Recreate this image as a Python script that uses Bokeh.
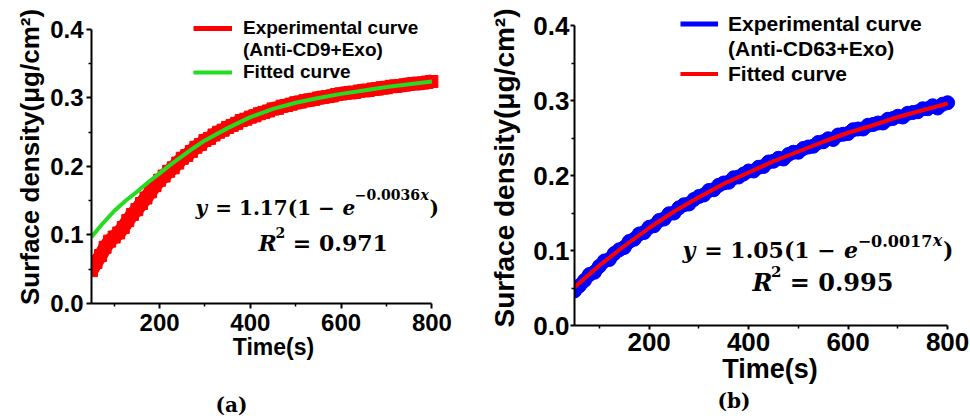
from bokeh.plotting import figure
from bokeh.models import (FixedTicker, PrintfTickFormatter, Label, Legend, LegendItem, Range1d, Title)
from bokeh.layouts import row
from bokeh.embed import file_html
from bokeh.resources import INLINE

# ---------------- data ----------------
time_a = list(range(50, 801, 10))
exp_a = [0.048, 0.060, 0.070, 0.082, 0.091, 0.097, 0.103, 0.111, 0.121, 0.130,
         0.137, 0.146, 0.154, 0.163, 0.172, 0.180, 0.186, 0.193, 0.198, 0.205,
         0.212, 0.216, 0.222, 0.228, 0.232, 0.238, 0.241, 0.246, 0.250, 0.253,
         0.257, 0.260, 0.263, 0.267, 0.269, 0.272, 0.274, 0.277, 0.279, 0.281,
         0.284, 0.285, 0.288, 0.289, 0.291, 0.293, 0.294, 0.296, 0.297, 0.298,
         0.300, 0.301, 0.302, 0.303, 0.305, 0.306, 0.307, 0.308, 0.308, 0.310,
         0.311, 0.311, 0.313, 0.313, 0.315, 0.315, 0.317, 0.317, 0.318, 0.319,
         0.320, 0.321, 0.321, 0.322, 0.323, 0.324]
fit_time_a = [50, 75, 100, 125, 150, 175, 200, 225, 250, 275, 300, 350, 400,
              450, 500, 550, 600, 650, 700, 750, 800]
fit_a = [0.097, 0.117, 0.135, 0.150, 0.163, 0.177, 0.190, 0.203, 0.215, 0.227,
         0.238, 0.256, 0.272, 0.284, 0.293, 0.300, 0.306, 0.311, 0.316, 0.320, 0.324]

time_b = list(range(50, 801, 10))
exp_b = [0.046, 0.053, 0.060, 0.068, 0.071, 0.079, 0.086, 0.088, 0.096, 0.101,
         0.104, 0.112, 0.115, 0.122, 0.124, 0.131, 0.133, 0.140, 0.142, 0.149,
         0.150, 0.157, 0.161, 0.162, 0.168, 0.172, 0.174, 0.180, 0.181, 0.187,
         0.190, 0.191, 0.197, 0.198, 0.202, 0.206, 0.206, 0.211, 0.212, 0.218,
         0.219, 0.223, 0.222, 0.228, 0.231, 0.231, 0.236, 0.238, 0.239, 0.244,
         0.245, 0.249, 0.248, 0.254, 0.255, 0.256, 0.261, 0.262, 0.262, 0.267,
         0.268, 0.270, 0.270, 0.275, 0.276, 0.279, 0.278, 0.283, 0.284, 0.285,
         0.289, 0.289, 0.293, 0.290, 0.295, 0.297]
fit_time_b = [50, 100, 150, 200, 250, 300, 350, 400, 450, 500, 550, 600, 650,
              700, 750, 800]
fit_b = [0.051, 0.080, 0.106, 0.130, 0.152, 0.171, 0.189, 0.204, 0.219, 0.232,
         0.245, 0.257, 0.267, 0.278, 0.287, 0.296]

x_ticks = [200, 400, 600, 800]
x_minor = [100, 300, 500, 700]
y_ticks = [0.0, 0.1, 0.2, 0.3, 0.4]
y_minor = [0.05, 0.15, 0.25, 0.35]

SANS = "Liberation Sans"
SERIF = "DejaVu Serif"

# approximate advance widths (em) for DejaVu Serif Bold / Bold Italic
EMW = {"0": .696, "1": .696, "2": .696, "3": .696, "4": .696, "5": .696,
       "6": .696, "7": .696, "8": .696, "9": .696, ".": .381, " ": .348,
       "(": .473, ")": .473, "=": .838, "−": .838, "y": .640, "e": .615,
       "x": .640, "R": .771}


def tw(text, size):
    return sum(EMW.get(c, .6) for c in text) * size


def put_eq(p, x0, y0, parts):
    x = x0
    for text, size, style, dy in parts:
        if text.strip():
            p.add_layout(Label(x=x, y=y0 + dy, x_units="screen", y_units="screen",
                               text=text, text_font=SERIF, text_font_size=f"{size}px",
                               text_font_style=style, text_color="black",
                               text_baseline="middle", text_align="left"))
        x += tw(text, size)


def make_fig(width, height, bl, br, bt, bb, x_end, y_start, y_end):
    p = figure(width=width, height=height, x_range=Range1d(50, x_end),
               y_range=Range1d(y_start, y_end),
               output_backend="svg", toolbar_location=None,
               min_border_left=bl, min_border_right=br, min_border_top=bt, min_border_bottom=bb)
    p.frame_align = False
    p.title.visible = False
    p.outline_line_color = None
    p.grid.visible = False
    p.xaxis.ticker = FixedTicker(ticks=x_ticks, minor_ticks=x_minor)
    p.yaxis.ticker = FixedTicker(ticks=y_ticks, minor_ticks=y_minor)
    p.xaxis.bounds = (50, 800)
    p.yaxis.bounds = (0, 0.4)
    p.yaxis.formatter = PrintfTickFormatter(format="%.1f")
    p.xaxis.axis_label = "Time(s)"
    p.yaxis.axis_label = "Surface density(μg/cm²)"
    for ax in (p.xaxis[0], p.yaxis[0]):
        ax.axis_line_width = 2
        ax.axis_line_color = "black"
        ax.major_tick_line_width = 2
        ax.minor_tick_line_width = 1.5
        ax.major_tick_line_color = "black"
        ax.minor_tick_line_color = "black"
        ax.major_tick_in = 0
        ax.minor_tick_in = 0
        ax.major_label_text_font = SANS
        ax.major_label_text_font_style = "bold"
        ax.major_label_text_color = "black"
        ax.axis_label_text_font = SANS
        ax.axis_label_text_font_style = "bold"
        ax.axis_label_text_color = "black"
    return p


def caption(p, text, offset):
    p.add_layout(Title(text=text, align="left", offset=offset, standoff=0,
                       text_font=SERIF, text_font_size="20px", text_font_style="bold",
                       text_color="black"), "below")


# ---------------- panel (a) ----------------
pa = make_fig(470, 416, 91, 15, 10, 113, 852, 0.0, 0.4277)
for ax in (pa.xaxis[0], pa.yaxis[0]):
    ax.major_tick_out = 5
    ax.minor_tick_out = 3
    ax.major_label_text_font_size = "24px"
pa.xaxis.major_label_standoff = 5
pa.yaxis.major_label_standoff = 3
pa.xaxis.axis_label_text_font_size = "23px"
pa.yaxis.axis_label_text_font_size = "26px"
pa.xaxis.axis_label_standoff = 0
pa.yaxis.axis_label_standoff = 2

pa.line(time_a, exp_a, line_color="#FF0000", line_width=14)
pa.scatter(time_a, exp_a, marker="square", size=12, color="#FF0000")
exp_line_a = pa.line(time_a, exp_a, line_color="#FF0000", line_width=5)
fit_line_a = pa.line(fit_time_a, fit_a, line_color="#22DD22", line_width=4)

leg_a = Legend(items=[LegendItem(label="Experimental curve", renderers=[exp_line_a]),
                      LegendItem(label="(Anti-CD9+Exo)", renderers=[]),
                      LegendItem(label="Fitted curve", renderers=[fit_line_a])],
               location=(102, 220), orientation="vertical",
               label_text_font=SANS, label_text_font_style="bold", label_text_font_size="19px",
               label_text_color="black", glyph_width=39, glyph_height=22, label_height=22,
               label_standoff=11, spacing=0, padding=0, margin=0,
               border_line_alpha=0, background_fill_alpha=0)
pa.add_layout(leg_a)

put_eq(pa, 104, 96, [("y", 20, "bold italic", 0), (" ", 20, "bold", 0),
                     ("= 1.17(1 −", 20, "bold", 0), (" ", 20, "bold", 0),
                     ("e", 20, "bold italic", 0), ("−0.0036", 14, "bold", 13),
                     ("x", 14, "bold italic", 13), (")", 20, "bold", 0)])
put_eq(pa, 167, 61, [("R", 22, "bold italic", 0), ("2", 14, "bold", 10),
                     (" ", 22, "bold", 0), ("= 0.971", 22, "bold", 0)])
# blank spacer panel between the axis and the caption
pa.add_layout(Title(text=" ", standoff=0, text_font=SERIF, text_font_size="22px"), "below")
caption(pa, "(a)", 124)

# ---------------- panel (b) ----------------
pb = make_fig(499, 416, 104, 4, 10, 91, 836, 0.0, 0.42)
for ax in (pb.xaxis[0], pb.yaxis[0]):
    ax.major_tick_out = 4
    ax.minor_tick_out = 3
    ax.major_label_text_font_size = "26px"
pb.xaxis.major_label_standoff = 3
pb.yaxis.major_label_standoff = 1
pb.xaxis.axis_label_text_font_size = "27px"
pb.yaxis.axis_label_text_font_size = "28px"
pb.xaxis.axis_label_standoff = 0
pb.yaxis.axis_label_standoff = 10

pb.line(time_b, exp_b, line_color="#0000FF", line_width=13)
pb.scatter(time_b, exp_b, marker="circle", size=14, color="#0000FF")
exp_line_b = pb.line(time_b, exp_b, line_color="#0000FF", line_width=5)
fit_line_b = pb.line(fit_time_b, fit_b, line_color="#FF0000", line_width=4)

leg_b = Legend(items=[LegendItem(label="Experimental curve", renderers=[exp_line_b]),
                      LegendItem(label="(Anti-CD63+Exo)", renderers=[]),
                      LegendItem(label="Fitted curve", renderers=[fit_line_b])],
               location=(106, 239), orientation="vertical",
               label_text_font=SANS, label_text_font_style="bold", label_text_font_size="21px",
               label_text_color="black", glyph_width=38, glyph_height=25, label_height=25,
               label_standoff=10, spacing=0, padding=0, margin=0,
               border_line_alpha=0, background_fill_alpha=0)
pb.add_layout(leg_b)

put_eq(pb, 108, 76, [("y", 22, "bold italic", 0), (" ", 22, "bold", 0),
                     ("= 1.05(1 −", 22, "bold", 0), (" ", 22, "bold", 0),
                     ("e", 22, "bold italic", 0), ("−0.0017", 16, "bold", 9),
                     ("x", 16, "bold italic", 9), (")", 22, "bold", 0)])
put_eq(pb, 178, 43, [("R", 24, "bold italic", 0), ("2", 15, "bold", 11),
                     (" ", 24, "bold", 0), ("= 0.995", 24, "bold", 0)])
caption(pb, "(b)", 143)

layout = row(pa, pb)
open("out.html", "w").write(file_html(layout, INLINE))
